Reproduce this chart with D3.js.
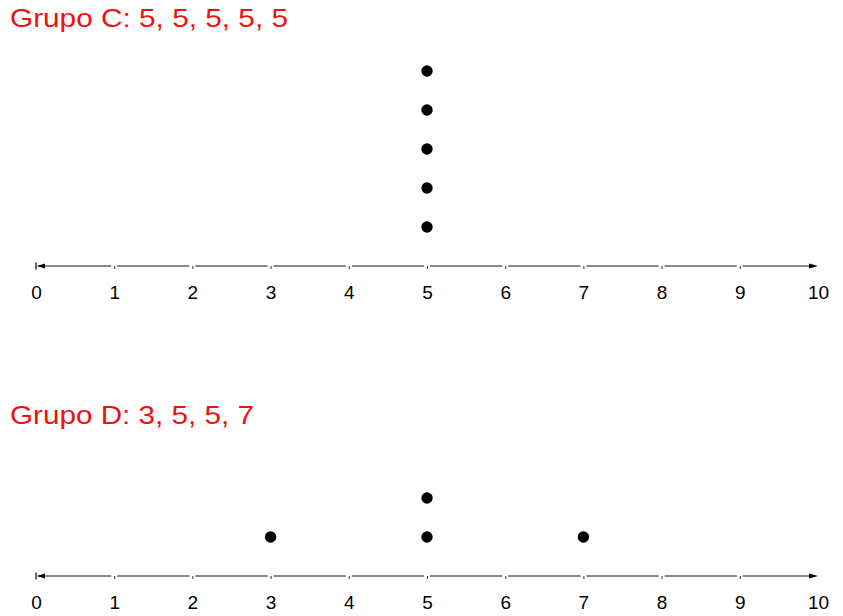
<!DOCTYPE html>
<html><head><meta charset="utf-8">
<script src="https://cdn.jsdelivr.net/npm/d3@7"></script>
<style>body{margin:0;background:#fff}svg{display:block}</style>
</head><body>
<script>
const groupCValues = [5, 5, 5, 5, 5];
const groupDValues = [3, 5, 5, 7];
const groupTitles = ["Grupo C: 5, 5, 5, 5, 5", "Grupo D: 3, 5, 5, 7"];
const tickValues = [0, 1, 2, 3, 4, 5, 6, 7, 8, 9, 10];
const tickLabels = ["0", "1", "2", "3", "4", "5", "6", "7", "8", "9", "10"];

const W = 843, H = 616;
const svg = d3.select("body").append("svg").attr("width", W).attr("height", H);
const x = d3.scaleLinear().domain([0, 10]).range([36, 818]);

const panels = [
  {values: groupCValues, title: groupTitles[0], titleY: 27, titleLen: 278, axisY: 266},
  {values: groupDValues, title: groupTitles[1], titleY: 424, titleLen: 244, axisY: 576}
];

panels.forEach(p => {
  const g = svg.append("g");
  g.append("text").attr("x", 10).attr("y", p.titleY)
    .attr("fill", "#f01010").attr("font-family", "Liberation Sans, Arial, sans-serif")
    .attr("font-size", 26).attr("textLength", p.titleLen).attr("lengthAdjust", "spacingAndGlyphs")
    .text(p.title);

  const stackY = d3.scaleLinear().domain([0, 1]).range([p.axisY, p.axisY - 39]);

  const segs = d3.pairs(tickValues);
  g.selectAll("line.seg").data(segs).enter().append("line")
    .attr("x1", (d, i) => i === 0 ? x(d[0]) + 2 : x(d[0]) + 3)
    .attr("x2", (d, i) => i === segs.length - 1 ? x(d[1]) - 4 : x(d[1]) - 3)
    .attr("y1", p.axisY).attr("y2", p.axisY)
    .attr("stroke", "#111").attr("stroke-width", 1);

  const axis = d3.axisBottom(x).tickValues(tickValues)
    .tickFormat((d, i) => tickLabels[i]).tickSize(3).tickPadding(17);
  const ag = g.append("g").attr("transform", `translate(0,${p.axisY})`).call(axis);
  ag.select(".domain").remove();
  ag.selectAll(".tick line").attr("stroke", "#333");
  ag.selectAll(".tick text").attr("font-family", "Liberation Sans, Arial, sans-serif")
    .attr("font-size", 19).attr("fill", "#000");
  ag.selectAll(".tick").filter(d => d === 0 || d === 10).select("line").remove();

  const x0 = x(0), x1 = x(10), y = p.axisY;
  g.append("path").attr("d", `M${x0 + 1},${y} L${x0 + 9},${y - 2.5} L${x0 + 9},${y + 2.5} Z`).attr("fill", "#000");
  g.append("line").attr("x1", x0).attr("x2", x0).attr("y1", y - 3.5).attr("y2", y + 3.5)
    .attr("stroke", "#000").attr("stroke-width", 1.2);
  g.append("path").attr("d", `M${x1},${y} L${x1 - 9},${y - 2.5} L${x1 - 9},${y + 2.5} Z`).attr("fill", "#000");

  const counts = {};
  const pts = p.values.map(v => { counts[v] = (counts[v] || 0) + 1; return {v, k: counts[v]}; });
  g.selectAll("circle").data(pts).enter().append("circle")
    .attr("cx", d => x(d.v)).attr("cy", d => stackY(d.k)).attr("r", 5.7).attr("fill", "#000");
});
</script>
</body></html>
